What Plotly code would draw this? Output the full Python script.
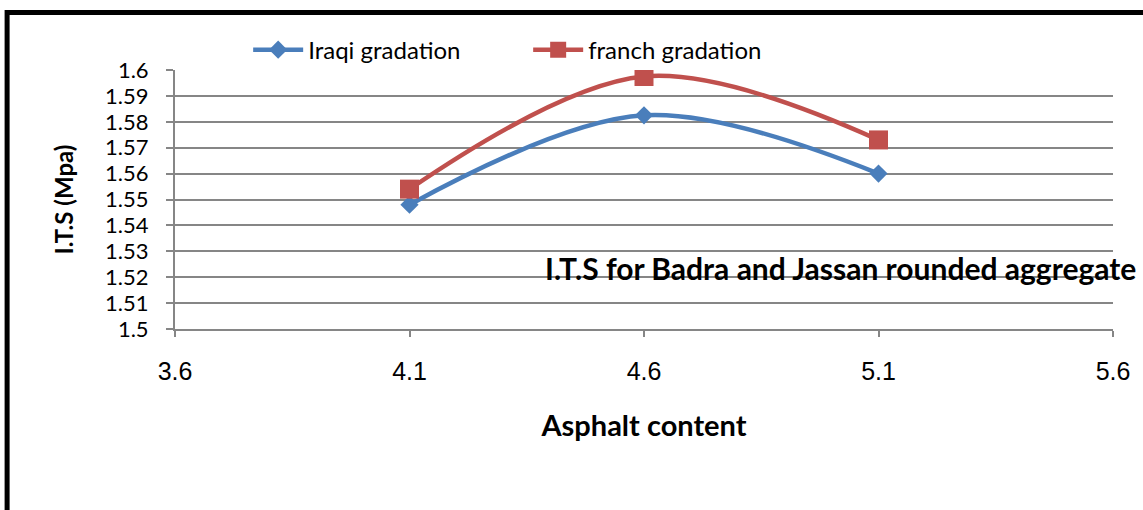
import plotly.graph_objects as go

# ── data ─────────────────────────────────────────────────────────────────────
asphalt = [4.1, 4.6, 5.1]
iraqi = [1.548, 1.5825, 1.560]
french = [1.554, 1.5975, 1.573]

x_ticks = [3.6, 4.1, 4.6, 5.1, 5.6]
y_ticks = [1.5, 1.51, 1.52, 1.53, 1.54, 1.55, 1.56, 1.57, 1.58, 1.59, 1.6]
y_labels = ["1.5", "1.51", "1.52", "1.53", "1.54", "1.55", "1.56", "1.57", "1.58", "1.59", "1.6"]

GRID = "#868686"
CAL = "Lato, Carlito, Calibri, sans-serif"
ARIAL = "Liberation Sans, Arial, sans-serif"

fig = go.Figure()

fig.add_trace(go.Scatter(
    x=asphalt, y=iraqi, name="Iraqi gradation", mode="lines+markers",
    line=dict(color="#4a7ebb", width=4.5, shape="spline"),
    marker=dict(symbol="diamond", size=14, color="#4a7ebb"),
))
fig.add_trace(go.Scatter(
    x=asphalt, y=french, name="franch gradation", mode="lines+markers",
    line=dict(color="#c0504d", width=4.5, shape="spline"),
    marker=dict(symbol="square", size=19, color="#c0504d"),
))

fig.update_layout(
    width=1143, height=510,
    paper_bgcolor="white", plot_bgcolor="white",
    margin=dict(l=175, r=30, t=70, b=181),
    font=dict(family=CAL, color="black"),
    showlegend=True,
    legend=dict(
        orientation="h", x=0.078, y=1.077, xanchor="left", yanchor="middle",
        font=dict(family=CAL, size=24, color="black"),
        bgcolor="rgba(0,0,0,0)", entrywidth=215, itemwidth=50,
    ),
    xaxis=dict(
        range=[3.6, 5.6], tickvals=x_ticks, ticktext=[str(v) for v in x_ticks],
        showgrid=False, zeroline=False,
        showline=True, linecolor=GRID, linewidth=2,
        ticks="outside", ticklen=6, tickcolor=GRID, tickwidth=2,
        ticklabelstandoff=13,
        tickfont=dict(family=ARIAL, size=25, color="black"),
        title=dict(text="<b>Asphalt content</b>", standoff=32,
                   font=dict(family=CAL, size=29, color="black")),
    ),
    yaxis=dict(
        range=[1.5, 1.6], tickvals=y_ticks, ticktext=y_labels,
        showgrid=True, gridcolor=GRID, gridwidth=2, zeroline=False,
        showline=True, linecolor=GRID, linewidth=2,
        ticks="outside", ticklen=7, tickcolor=GRID, tickwidth=2,
        ticklabelstandoff=13,
        tickfont=dict(family=CAL, size=22, color="black"),
        title=dict(text="<b>I.T.S (Mpa)</b>", standoff=25,
                   font=dict(family=CAL, size=24, color="black")),
    ),
)

fig.add_annotation(
    text="<b>I.T.S for Badra and Jassan rounded aggregate</b>",
    xref="paper", yref="paper", x=0.392, y=0.2355,
    xanchor="left", yanchor="middle", showarrow=False,
    font=dict(family=CAL, size=30, color="black"),
)

# thick black frame around the picture (top and left visible)
fig.add_shape(
    type="rect", xref="paper", yref="paper",
    x0=-0.179, x1=1.05, y0=-0.8, y1=1.222,
    line=dict(color="black", width=5), fillcolor="rgba(0,0,0,0)",
)

fig.write_html("out.html", config={"displayModeBar": False},
               post_script="document.body.style.margin='0';")
